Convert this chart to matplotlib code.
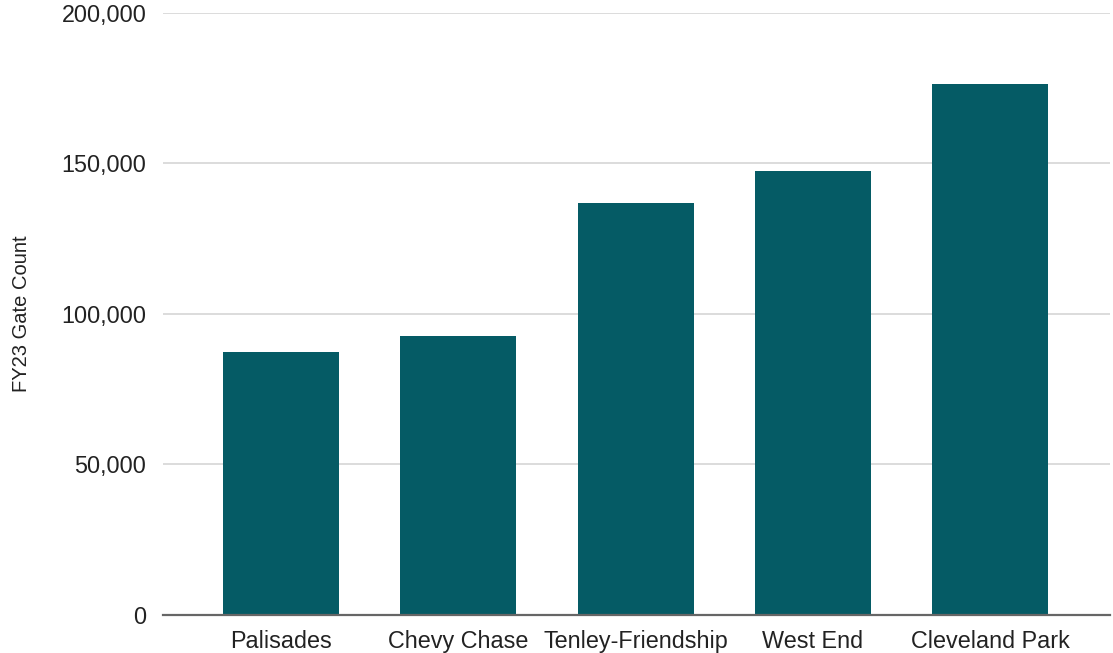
import matplotlib
matplotlib.use("Agg")
import matplotlib.pyplot as plt
from matplotlib.ticker import FuncFormatter

categories = ["Palisades", "Chevy Chase", "Tenley-Friendship", "West End", "Cleveland Park"]
gate_counts = [87500, 92800, 137000, 147500, 176300]
y_ticks = [0, 50000, 100000, 150000, 200000]

plt.rcParams['font.family'] = ['Liberation Sans', 'DejaVu Sans']

fig = plt.figure(figsize=(11.13, 6.53), dpi=100)
ax = fig.add_axes([0.1465, 0.0582, 0.8508, 0.9219])

x = list(range(len(categories)))
ax.bar(x, gate_counts, width=0.655, color="#055B65", zorder=3)

ax.set_ylim(0, 200000)
ax.set_xlim(-0.667, 4.678)
ax.set_yticks(y_ticks)
ax.yaxis.set_major_formatter(FuncFormatter(lambda v, p: f"{int(v):,}"))
ax.set_xticks(x)
ax.set_xticklabels(categories)
ax.grid(axis="y", color="#d9d9d9", linewidth=1.3, zorder=0)
for s in ["top", "right", "left"]:
    ax.spines[s].set_visible(False)
ax.spines["bottom"].set_color("#666666")
ax.spines["bottom"].set_linewidth(1.6)
ax.spines["bottom"].set_zorder(4)
ax.tick_params(axis="both", length=0, labelsize=16.8, colors="#222222")
ax.tick_params(axis="y", pad=12)
ax.tick_params(axis="x", pad=11)
ax.set_ylabel("FY23 Gate Count", fontsize=14.5, color="#222222", labelpad=22)

fig.savefig("out.png", dpi=100)
